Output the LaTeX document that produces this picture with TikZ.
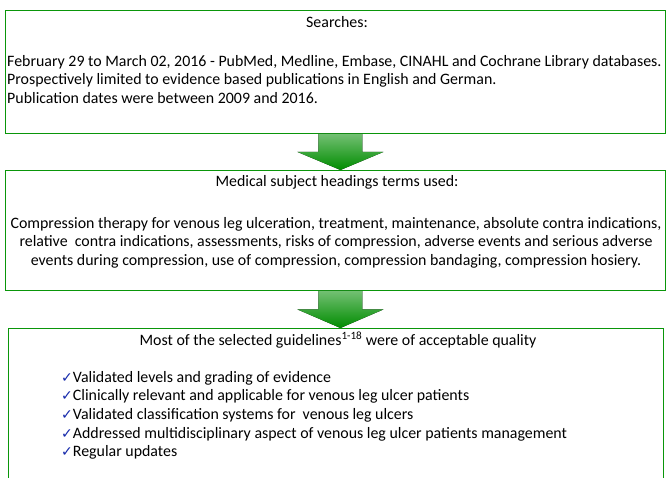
\documentclass[tikz,border=0pt]{standalone}
\usepackage{fontspec}
\setmainfont{Carlito}
\newfontfamily\symfont{DejaVu Sans}
\usetikzlibrary{positioning, calc}
\definecolor{boxgreen}{RGB}{10,150,10}
\definecolor{arrowgreen}{RGB}{0,140,0}
\definecolor{tickblue}{RGB}{20,40,170}

\newcommand{\tick}{{\symfont\color{tickblue}\fontsize{14}{14}\selectfont ✓}}

\begin{document}
\begin{tikzpicture}[x=1pt, y=1pt, inner sep=0pt, node distance=0pt,
  stepbox/.style={draw=boxgreen, line width=0.9pt, anchor=north west},
  txt/.style={font=\fontsize{15.9}{18.6}\selectfont},
  blockarrow/.style={top color=arrowgreen!55!white, bottom color=arrowgreen, draw=none}]

\useasboundingbox (0,0) rectangle (667,477);

% three stages
\node[stepbox, minimum width=660pt, minimum height=123pt] (search)  at (5,467) {};
\node[stepbox, minimum width=660pt, minimum height=120pt] (mesh)    at (5,307) {};
\node[stepbox, minimum width=655pt, minimum height=170pt] (quality) at (8,149) {};

% searches
\node[txt] (searchtitle) at (337,455) {Searches:};
\node[txt, align=left, anchor=north west] (searchbody) at (7,422)
  {February 29 to March 02, 2016 - PubMed, Medline, Embase, CINAHL and Cochrane Library databases.\\
   Prospectively limited to evidence based publications in English and German.\\
   Publication dates were between 2009 and 2016.};

% mesh terms
\node[txt] (meshtitle) at (337,295) {Medical subject headings terms used:};
\node[txt, align=center, anchor=north] (meshbody) at (336,260)
  {Compression therapy for venous leg ulceration, treatment, maintenance, absolute contra indications,\\
   relative\ \ contra indications, assessments, risks of compression, adverse events and serious adverse\\
   events during compression, use of compression, compression bandaging, compression hosiery.};

% guideline quality
\node[txt] (qualitytitle) at (338,137) {Most of the selected guidelines\textsuperscript{1-18} were of acceptable quality};
\node[txt, align=left, anchor=north west] (qualitylist) at (61,106)
  {\tick Validated levels and grading of evidence\\
   \tick Clinically relevant and applicable for venous leg ulcer patients\\
   \tick Validated classification systems for\ \ venous leg ulcers\\
   \tick Addressed multidisciplinary aspect of venous leg ulcer patients management\\
   \tick Regular updates};

% block arrows between the stages
\foreach \a/\b in {search/mesh, mesh/quality}
  \fill[blockarrow] let \p1=(\a.south), \p2=(\b.north), \n1={(\y1+\y2)/2} in
    (\x1-17pt,\y1) -- (\x1+27pt,\y1) -- (\x1+27pt,\n1) -- (\x1+48pt,\n1)
    -- (\x1+5pt,\y2) -- (\x1-38pt,\n1) -- (\x1-17pt,\n1) -- cycle;

\end{tikzpicture}
\end{document}
